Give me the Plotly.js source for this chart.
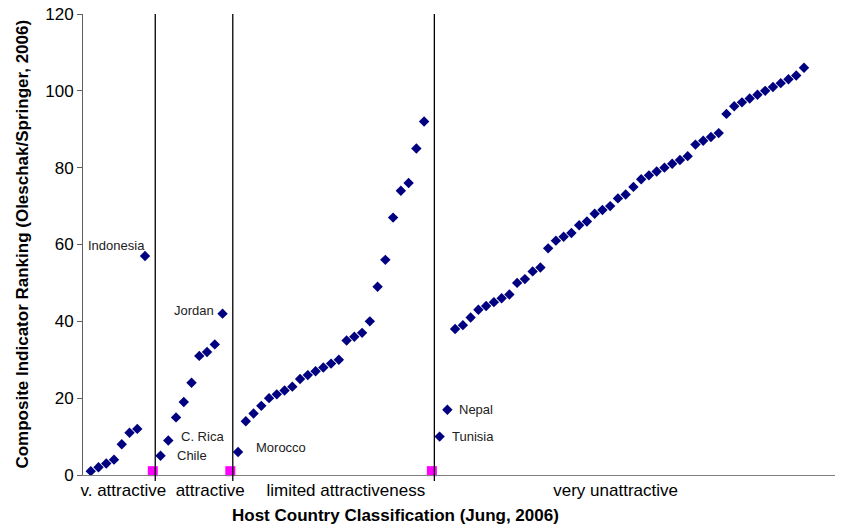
<!DOCTYPE html>
<html>
<head>
<meta charset="utf-8">
<script src="https://cdn.plot.ly/plotly-3.0.1.min.js"></script>
<style>html,body{margin:0;padding:0;background:#fff;}#chart{width:848px;height:529px;}</style>
</head>
<body>
<div id="chart"></div>
<script>
// ---- data ----
const categories = ["v. attractive", "attractive", "limited attractiveness", "very unattractive"];
const vAttractive = [1, 2, 3, 4, 8, 11, 12, 57];
const attractive = [5, 9, 15, 19, 24, 31, 32, 34, 42];
const limited = [6, 14, 16, 18, 20, 21, 22, 23, 25, 26, 27, 28, 29, 30, 35, 36, 37, 40, 49, 56, 67, 74, 76, 85, 92];
const veryUnattractive = [10, 17, 38, 39, 41, 43, 44, 45, 46, 47, 50, 51, 53, 54, 59, 61, 62, 63, 65, 66, 68, 69, 70, 72, 73, 75, 77, 78, 79, 80, 81, 82, 83, 86, 87, 88, 89, 94, 96, 97, 98, 99, 100, 101, 102, 103, 104, 106];
const boundaryValue = 1;
const labelNames = ["Indonesia", "Chile", "C. Rica", "Jordan", "Morocco", "Tunisia", "Nepal"];
const labelIdx = [7, 9, 10, 17, 19, 45, 46];
const xTitle = "Host Country Classification (Jung, 2006)";
const yTitle = "Composite Indicator Ranking (Oleschak/Springer, 2006)";

// ---- build positions: groups placed consecutively, one empty slot between groups ----
const groups = [vAttractive, attractive, limited, veryUnattractive];
const xs = [], ys = [], bx = [], by = [];
let pos = 0;
groups.forEach((g, gi) => {
  g.forEach(v => { xs.push(pos); ys.push(v); pos++; });
  if (gi < groups.length - 1) { bx.push(pos); by.push(boundaryValue); pos++; }
});

const labelStyle = {
  "Indonesia": {xanchor: "right", xs: 2, ys: 11},
  "Chile": {xanchor: "left", xs: 14, ys: 0},
  "C. Rica": {xanchor: "left", xs: 11, ys: 4},
  "Jordan": {xanchor: "right", xs: -7, ys: 3},
  "Morocco": {xanchor: "left", xs: 16, ys: 4},
  "Tunisia": {xanchor: "left", xs: 10, ys: 0},
  "Nepal": {xanchor: "left", xs: 10, ys: 0}
};
const font = "'Liberation Sans', Arial, sans-serif";
const labelAnn = labelNames.map((n, i) => {
  const p = xs.indexOf(labelIdx[i]);
  const st = labelStyle[n];
  return {
    x: xs[p], y: ys[p], xref: "x", yref: "y", text: n, showarrow: false,
    xanchor: st.xanchor, yanchor: "middle", xshift: st.xs, yshift: st.ys,
    font: {family: font, size: 13, color: "#222"}
  };
});

const sepShapes = bx.map(b => ({
  type: "line", xref: "x", yref: "paper", x0: b + 0.32, x1: b + 0.32, y0: -0.013, y1: 1,
  line: {color: "#000", width: 1.3}
}));

const traces = [
  {x: xs, y: ys, type: "scatter", mode: "markers", hoverinfo: "skip",
   marker: {symbol: "diamond", size: 8, color: "#000080"}, cliponaxis: false},
  {x: bx, y: by, type: "scatter", mode: "markers", hoverinfo: "skip",
   marker: {symbol: "square", size: 10, color: "#FF00FF"}, cliponaxis: false}
];

const layout = {
  width: 848, height: 529,
  margin: {l: 83, r: 13, t: 14, b: 54},
  paper_bgcolor: "#fff", plot_bgcolor: "#fff",
  showlegend: false,
  font: {family: font, size: 17, color: "#000"},
  xaxis: {
    range: [-1, 96], showgrid: false, zeroline: false,
    showline: true, linecolor: "#808080", linewidth: 1,
    tickmode: "array", tickvals: [4.2, 15.4, 32.9, 67.7], ticktext: categories,
    ticks: "", ticklen: 0, tickfont: {family: font, size: 17, color: "#000"}
  },
  yaxis: {
    range: [0, 120], showgrid: false, zeroline: false,
    showline: true, linecolor: "#606060", linewidth: 1,
    tickmode: "array", tickvals: [0, 20, 40, 60, 80, 100, 120],
    ticks: "outside", ticklen: 5, tickcolor: "#606060",
    tickfont: {family: font, size: 17, color: "#000"}
  },
  shapes: sepShapes,
  annotations: labelAnn.concat([
    {xref: "paper", yref: "paper", x: 0.416, y: -0.087, xanchor: "center", yanchor: "middle",
     text: "<b>" + xTitle + "</b>", showarrow: false, font: {family: font, size: 17, color: "#000"}},
    {xref: "paper", yref: "paper", x: -0.081, y: 0.5, xanchor: "center", yanchor: "middle",
     textangle: -90, text: "<b>" + yTitle + "</b>", showarrow: false, font: {family: font, size: 17, color: "#000"}}
  ])
};

Plotly.newPlot("chart", traces, layout, {displayModeBar: false, staticPlot: true});
</script>
</body>
</html>
